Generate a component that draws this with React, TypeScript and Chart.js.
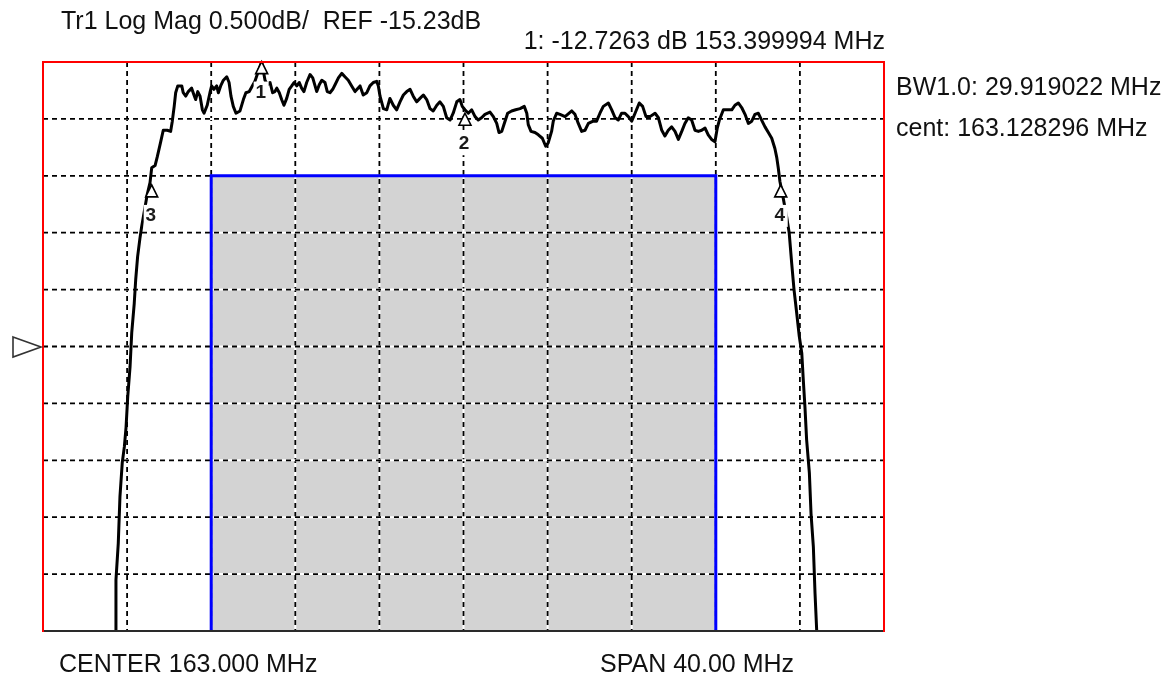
import React, { useEffect, useRef } from "react";
import { Chart, registerables } from "chart.js";

Chart.register(...registerables);

// ---- Data (frequency in MHz, magnitude in dB) ----
const freqMHz = [
  146.28, 146.47, 146.47, 146.58, 146.66, 146.77, 146.87, 146.95, 147.03, 147.14,
  147.22, 147.34, 147.41, 147.5, 147.61, 147.69, 147.95, 148.09, 148.17, 148.33,
  148.44, 148.6, 148.72, 148.91, 149.07, 149.15, 149.24, 149.31, 149.41, 149.6,
  149.67, 149.79, 149.91, 150.07, 150.18, 150.26, 150.36, 150.47, 150.58, 150.66,
  150.81, 150.94, 151.02, 151.13, 151.26, 151.34, 151.45, 151.58, 151.74, 151.85,
  151.94, 152.05, 152.18, 152.37, 152.53, 152.65, 152.81, 153.08, 153.4, 153.56,
  153.67, 153.8, 153.92, 154.03, 154.12, 154.24, 154.35, 154.46, 154.59, 154.71,
  154.83, 154.94, 155.07, 155.19, 155.3, 155.41, 155.54, 155.7, 155.83, 155.94,
  156.02, 156.14, 156.26, 156.41, 156.52, 156.65, 156.78, 156.89, 157.05, 157.21,
  157.36, 157.52, 157.68, 157.84, 158.08, 158.23, 158.4, 158.55, 158.71, 158.87,
  158.95, 159.03, 159.19, 159.35, 159.5, 159.66, 159.82, 159.98, 160.14, 160.3,
  160.46, 160.61, 160.77, 160.93, 161.09, 161.25, 161.41, 161.56, 161.73, 161.88,
  162.04, 162.2, 162.36, 162.51, 162.68, 162.83, 162.94, 163.07, 163.23, 163.39,
  163.55, 163.7, 163.86, 164.02, 164.26, 164.42, 164.58, 164.69, 164.82, 164.94,
  165.1, 165.29, 165.48, 165.69, 165.89, 166.01, 166.08, 166.21, 166.4, 166.56,
  166.75, 166.91, 167.03, 167.19, 167.27, 167.43, 167.59, 167.83, 168.15, 168.3,
  168.46, 168.62, 168.78, 168.94, 169.17, 169.33, 169.49, 169.65, 169.89, 170.05,
  170.21, 170.36, 170.52, 170.68, 170.84, 171.0, 171.16, 171.36, 171.52, 171.68,
  171.87, 172.11, 172.27, 172.43, 172.58, 172.74, 172.9, 173.06, 173.22, 173.38,
  173.53, 173.69, 173.85, 174.01, 174.17, 174.33, 174.49, 174.64, 174.8, 174.96,
  175.07, 175.17, 175.36, 175.52, 175.76, 175.91, 176.07, 176.23, 176.39, 176.55,
  176.71, 176.86, 177.02, 177.18, 177.34, 177.5, 177.66, 177.81, 177.9, 177.97,
  178.05, 178.18, 178.37, 178.49, 178.61, 178.72, 178.85, 178.97, 179.09, 179.16,
  179.24, 179.32, 179.45, 179.53, 179.64, 179.72, 179.8, 179.84,
];

const magDb = [
  -17.85, -17.73, -17.28, -16.96, -16.55, -16.25, -16.11, -15.94, -15.67, -15.41,
  -15.11, -14.85, -14.64, -14.44, -14.28, -14.18, -13.9, -13.79, -13.66, -13.64,
  -13.56, -13.43, -13.33, -13.33, -13.34, -13.25, -13.12, -13.0, -12.94, -12.94,
  -13.0, -13.03, -12.99, -12.96, -13.02, -13.06, -12.99, -13.03, -13.15, -13.18,
  -13.11, -13.0, -12.94, -12.97, -12.94, -13.0, -12.94, -12.89, -12.86, -12.91,
  -13.03, -13.12, -13.18, -13.16, -13.06, -13.0, -12.99, -12.9, -12.726, -12.89,
  -12.93, -12.91, -13.0, -12.99, -12.96, -13.0, -13.06, -13.11, -13.05, -12.97,
  -12.94, -12.91, -12.94, -12.91, -12.96, -12.99, -12.91, -12.84, -12.87, -12.94,
  -12.99, -12.93, -12.89, -12.91, -12.99, -13.0, -12.97, -12.93, -12.87, -12.83,
  -12.86, -12.89, -12.94, -12.99, -12.94, -13.02, -13.0, -12.94, -12.91, -12.9,
  -12.94, -13.03, -13.14, -13.15, -13.05, -13.11, -13.15, -13.08, -13.02, -12.99,
  -12.97, -13.03, -13.08, -13.05, -13.02, -13.06, -13.14, -13.16, -13.11, -13.08,
  -13.12, -13.22, -13.24, -13.18, -13.08, -13.06, -13.12, -13.15, -13.18, -13.15,
  -13.21, -13.24, -13.22, -13.19, -13.17, -13.21, -13.27, -13.35, -13.34, -13.27,
  -13.18, -13.16, -13.15, -13.14, -13.12, -13.18, -13.28, -13.34, -13.35, -13.37,
  -13.4, -13.47, -13.44, -13.34, -13.25, -13.18, -13.19, -13.21, -13.16, -13.19,
  -13.27, -13.34, -13.33, -13.27, -13.25, -13.25, -13.18, -13.12, -13.09, -13.15,
  -13.22, -13.24, -13.18, -13.18, -13.21, -13.25, -13.18, -13.09, -13.12, -13.21,
  -13.21, -13.18, -13.22, -13.33, -13.38, -13.33, -13.3, -13.34, -13.41, -13.34,
  -13.27, -13.22, -13.24, -13.33, -13.34, -13.33, -13.31, -13.37, -13.41, -13.43,
  -13.31, -13.24, -13.15, -13.15, -13.15, -13.11, -13.09, -13.13, -13.19, -13.27,
  -13.25, -13.19, -13.18, -13.24, -13.3, -13.35, -13.4, -13.49, -13.57, -13.66,
  -13.78, -13.9, -14.09, -14.23, -14.5, -14.73, -14.94, -15.14, -15.29, -15.52,
  -15.76, -16.05, -16.34, -16.7, -16.99, -17.4, -17.73, -17.9,
];

// Limit mask (grey region, blue outline)
const maskFreqMHz = [151, 151, 175, 175];
const maskDb = [-17.73, -13.73, -13.73, -17.73];

// Axis range and grid divisions
const xMinMHz = 143;
const xMaxMHz = 183;
const yMinDb = -17.73;
const yMaxDb = -12.73;
const xGridMHz = [147, 151, 155, 159, 163, 167, 171, 175, 179];
const yGridDb = [-13.23, -13.73, -14.23, -14.73, -15.23, -15.73, -16.23, -16.73, -17.23];
const refLevelDb = -15.23;

// Markers
const markerFreqMHz = [153.399994, 163.07, 148.169, 178.088];
const markerDb = [-12.7263, -13.18, -13.81, -13.81];
const markerLabels = ["1", "2", "3", "4"];

// Texts
const titleText = "Tr1 Log Mag 0.500dB/  REF -15.23dB";
const markerReadout = "1: -12.7263 dB 153.399994 MHz";
const bwText = "BW1.0: 29.919022 MHz";
const centText = "cent: 163.128296 MHz";
const centerText = "CENTER 163.000 MHz";
const spanText = "SPAN 40.00 MHz";

const FONT = '"Liberation Sans", Arial, sans-serif';

const overlayPlugin = {
  id: "vnaOverlay",
  afterDatasetDraw(chart: any, args: any) {
    // draw grid right after the grey mask fill (dataset index 2)
    if (args.index !== 2) return;
    const { ctx, chartArea: a } = chart;
    const xs = chart.scales.x;
    const ys = chart.scales.y;
    ctx.save();
    const drawLine = (x1: number, y1: number, x2: number, y2: number) => {
      ctx.setLineDash([]);
      ctx.strokeStyle = "#ffffff";
      ctx.lineWidth = 2;
      ctx.beginPath();
      ctx.moveTo(x1, y1);
      ctx.lineTo(x2, y2);
      ctx.stroke();
      ctx.setLineDash([5, 4]);
      ctx.strokeStyle = "#000000";
      ctx.lineWidth = 1.8;
      ctx.beginPath();
      ctx.moveTo(x1, y1);
      ctx.lineTo(x2, y2);
      ctx.stroke();
    };
    xGridMHz.forEach((v) => {
      const px = xs.getPixelForValue(v);
      drawLine(px, a.top, px, a.bottom);
    });
    yGridDb.forEach((v) => {
      const py = ys.getPixelForValue(v);
      drawLine(a.left, py, a.right, py);
    });
    ctx.restore();
  },
  afterDatasetsDraw(chart: any) {
    const { ctx } = chart;
    const xs = chart.scales.x;
    const ys = chart.scales.y;
    ctx.save();
    ctx.setLineDash([]);
    markerFreqMHz.forEach((f, i) => {
      const px = xs.getPixelForValue(f);
      const py = ys.getPixelForValue(markerDb[i]);
      // triangle
      ctx.beginPath();
      ctx.moveTo(px, py);
      ctx.lineTo(px - 6, py + 12);
      ctx.lineTo(px + 6, py + 12);
      ctx.closePath();
      ctx.fillStyle = "#ffffff";
      ctx.fill();
      ctx.strokeStyle = "#000000";
      ctx.lineWidth = 1.6;
      ctx.stroke();
      // label with white background
      const ly = py + 31;
      ctx.fillStyle = "#ffffff";
      ctx.fillRect(px - 8, ly - 11, 15, 22);
      ctx.fillStyle = "#1a1a1a";
      ctx.font = `bold 19px ${FONT}`;
      ctx.textAlign = "center";
      ctx.textBaseline = "middle";
      ctx.fillText(markerLabels[i], px - 1, ly);
    });
    ctx.restore();
  },
  afterDraw(chart: any) {
    const { ctx, chartArea: a } = chart;
    const ys = chart.scales.y;
    ctx.save();
    ctx.setLineDash([]);
    // bottom border
    ctx.strokeStyle = "#2a2a2a";
    ctx.lineWidth = 2;
    ctx.beginPath();
    ctx.moveTo(a.left, a.bottom);
    ctx.lineTo(a.right, a.bottom);
    ctx.stroke();
    // red border left/top/right
    ctx.strokeStyle = "#ff0000";
    ctx.lineWidth = 2;
    ctx.beginPath();
    ctx.moveTo(a.left, a.bottom + 1);
    ctx.lineTo(a.left, a.top);
    ctx.lineTo(a.right, a.top);
    ctx.lineTo(a.right, a.bottom + 1);
    ctx.stroke();

    // reference level triangle
    const ry = ys.getPixelForValue(refLevelDb);
    ctx.strokeStyle = "#333333";
    ctx.lineWidth = 1.6;
    ctx.beginPath();
    ctx.moveTo(13, ry - 9.5);
    ctx.lineTo(a.left - 2, ry + 0.5);
    ctx.lineTo(13, ry + 10.5);
    ctx.closePath();
    ctx.stroke();

    // texts
    ctx.fillStyle = "#111111";
    ctx.font = `25px ${FONT}`;
    ctx.textBaseline = "middle";
    ctx.textAlign = "left";
    ctx.fillText(titleText, 61, 22);
    ctx.fillText(bwText, 896, 88);
    ctx.fillText(centText, 896, 129);
    ctx.fillText(centerText, 59, 665);
    ctx.fillText(spanText, 600, 665);
    ctx.textAlign = "right";
    ctx.fillText(markerReadout, a.right + 1, 42);
    ctx.restore();
  },
};

export default function App() {
  const canvasRef = useRef<HTMLCanvasElement | null>(null);

  useEffect(() => {
    const canvas = canvasRef.current;
    if (!canvas) return;
    const trace = freqMHz.map((f, i) => ({ x: f, y: magDb[i] }));
    const mask = maskFreqMHz.map((f, i) => ({ x: f, y: maskDb[i] }));
    const chart = new Chart(canvas, {
      type: "line",
      data: {
        datasets: [
          {
            label: "Tr1",
            data: trace,
            borderColor: "#000000",
            borderWidth: 3,
            pointRadius: 0,
            tension: 0,
            fill: false,
            borderJoinStyle: "round",
            order: 0,
          },
          {
            label: "mask outline",
            data: mask,
            borderColor: "#0000ff",
            borderWidth: 3,
            pointRadius: 0,
            tension: 0,
            fill: false,
            order: 1,
          },
          {
            label: "mask fill",
            data: mask,
            borderColor: "rgba(0,0,0,0)",
            borderWidth: 0,
            backgroundColor: "#d3d3d3",
            pointRadius: 0,
            tension: 0,
            fill: "start",
            order: 2,
          },
        ],
      },
      options: {
        animation: false,
        responsive: false,
        devicePixelRatio: 1,
        layout: { padding: { left: 43, top: 62, right: 284, bottom: 47 } },
        plugins: {
          legend: { display: false },
          tooltip: { enabled: false },
          title: { display: false },
        },
        scales: {
          x: { type: "linear", min: xMinMHz, max: xMaxMHz, display: false },
          y: { type: "linear", min: yMinDb, max: yMaxDb, display: false },
        },
      },
      plugins: [overlayPlugin],
    } as any);
    return () => chart.destroy();
  }, []);

  return (
    <div style={{ position: "absolute", left: 0, top: 0, width: 1168, height: 678, background: "#ffffff" }}>
      <canvas ref={canvasRef} width={1168} height={678} style={{ display: "block", width: 1168, height: 678 }} />
    </div>
  );
}
